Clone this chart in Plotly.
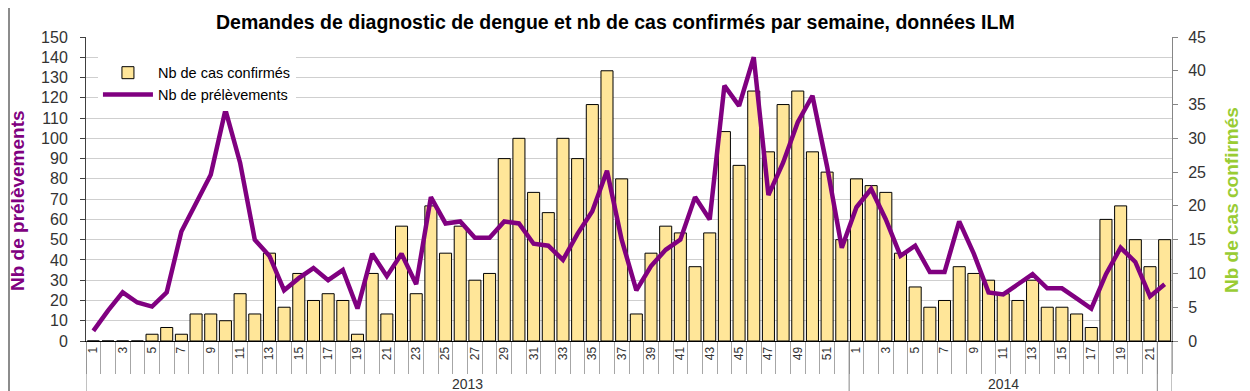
import plotly.graph_objects as go

# ---- data ----
years = ["2013"] * 52 + ["2014"] * 22
weeks = list(range(1, 53)) + list(range(1, 23))

cas_confirmes = [
    0, 0, 0, 0, 1, 2, 1, 4, 4, 3, 7, 4, 13, 5, 10, 6, 7, 6, 1, 10,
    4, 17, 7, 20, 13, 17, 9, 10, 27, 30, 22, 19, 30, 27, 35, 40, 24, 4, 13, 17,
    16, 11, 16, 31, 26, 37, 28, 35, 37, 28, 25, 15,
    24, 23, 22, 13, 8, 5, 6, 11, 10, 9, 7, 6, 9, 5, 5, 4, 2, 18, 20, 15, 11, 15,
]
prelevements = [
    5, 15, 24, 19, 17, 24, 54, 68, 82, 114, 88, 50, 42, 25, 31, 36, 30, 35, 16, 43,
    32, 43, 28, 71, 58, 59, 51, 51, 59, 58, 48, 47, 40, 53, 64, 84, 50, 25, 37, 45,
    50, 71, 60, 126, 116, 140, 72, 88, 108, 121, 86, 46,
    66, 75, 60, 42, 47, 34, 34, 59, 43, 24, 23, 28, 33, 26, 26, 21, 16, 33, 46, 39, 22, 28,
]

title_text = "Demandes de diagnostic de dengue et nb de cas confirmés par semaine, données ILM"
left_title = "Nb de prélèvements"
right_title = "Nb de cas confirmés"

x = list(range(len(weeks)))
tickvals = [i for i, w in enumerate(weeks) if w % 2 == 1]
ticktext = [str(weeks[i]) for i in tickvals]

# year groups (start/end boundaries in category units)
year_names = ["2013", "2014"]
year_bounds = [(-0.5, 51.5), (51.5, 72.5)]

PURPLE = "#800080"
GREEN = "#99CC33"
FONT = "Arial, Liberation Sans, sans-serif"

fig = go.Figure()
fig.add_trace(go.Bar(
    x=x, y=cas_confirmes, name="Nb de cas confirmés", yaxis="y",
    marker=dict(color="#FFE699", line=dict(color="#000000", width=1)),
))
fig.add_trace(go.Scatter(
    x=x, y=prelevements, name="Nb de prélèvements", yaxis="y2",
    mode="lines", line=dict(color=PURPLE, width=4.5),
))

n = len(weeks)
# page body has an 8px margin: figure is offset by 8px right/down
PW, PH = 1086, 304
fig.update_layout(
    width=1242, height=383,
    margin=dict(l=78, r=78, t=29, b=50),
    paper_bgcolor="white", plot_bgcolor="white",
    font=dict(family=FONT, color="#333333"),
    bargap=0.18,
    showlegend=True,
    legend=dict(x=0.011, y=0.935, xanchor="left", yanchor="top",
                bgcolor="white", font=dict(size=14.5, color="#000000"),
                tracegroupgap=2, itemwidth=50),
    xaxis=dict(
        range=[-0.5, n - 0.5], tickmode="array", tickvals=tickvals, ticktext=ticktext,
        tickangle=-90, tickfont=dict(size=12, color="#333333"), ticks="",
        showline=True, linecolor="#000000", linewidth=1, showgrid=False, zeroline=False,
        minor=dict(tickmode="linear", tick0=-0.5, dtick=1, ticks="outside",
                   ticklen=32, tickcolor="#A6A6A6", tickwidth=1, showgrid=False),
    ),
    yaxis=dict(
        side="right", range=[0, 45], dtick=5, tick0=0,
        showgrid=False, zeroline=False,
        showline=True, linecolor="#868686", linewidth=1,
        ticks="outside", ticklen=5, tickcolor="#868686", ticklabelstandoff=7,
        tickfont=dict(size=16, color="#333333"),
    ),
    yaxis2=dict(
        side="left", overlaying="y", range=[0, 150], dtick=10, tick0=0,
        showgrid=True, gridcolor="#CFCFCF", gridwidth=1, zeroline=False,
        showline=True, linecolor="#404040", linewidth=1,
        ticks="outside", ticklen=5, tickcolor="#404040", ticklabelstandoff=9,
        tickfont=dict(size=16, color="#333333"),
    ),
)

# year group separators (below the axis)
ybot = -50 / PH
for xb in [-0.5, 51.5, 72.5, n - 0.5]:
    fig.add_shape(type="line", xref="x", yref="paper", x0=xb, x1=xb, y0=0, y1=ybot,
                  line=dict(color="#868686", width=1))
# outer left border
fig.add_shape(type="line", xref="paper", yref="paper", x0=-77 / PW, x1=-77 / PW,
              y0=-1.2, y1=1.2, line=dict(color="#8C8C8C", width=2))

for name, (a, b) in zip(year_names, year_bounds):
    fig.add_annotation(x=(a + b) / 2, y=-43 / PH, xref="x", yref="paper", text=name,
                       showarrow=False, font=dict(size=14, color="#333333"),
                       yanchor="middle")

# title with white box covering top gridline
fig.add_annotation(x=(615 - 86) / PW, y=(341 - 22) / PH, xref="paper", yref="paper",
                   text="<b>" + title_text + "</b>", showarrow=False,
                   font=dict(size=19.5, color="#000000"), bgcolor="white", borderpad=4,
                   xanchor="center", yanchor="middle")

# axis titles
fig.add_annotation(x=(18 - 86) / PW, y=(341 - 200) / PH, xref="paper", yref="paper",
                   text="<b>" + left_title + "</b>", textangle=-90, showarrow=False,
                   font=dict(size=19, color=PURPLE), xanchor="center", yanchor="middle")
fig.add_annotation(x=(1232 - 86) / PW, y=(341 - 200) / PH, xref="paper", yref="paper",
                   text="<b>" + right_title + "</b>", textangle=-90, showarrow=False,
                   font=dict(size=19, color=GREEN), xanchor="center", yanchor="middle")

fig.write_html("out.html")
